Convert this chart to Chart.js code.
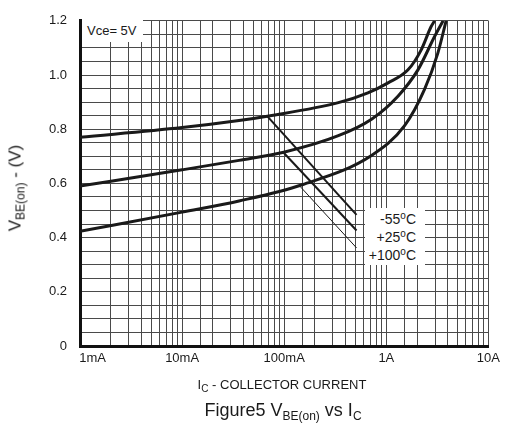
<!DOCTYPE html>
<html><head><meta charset="utf-8">
<script src="https://cdn.jsdelivr.net/npm/chart.js@4.4.1/dist/chart.umd.min.js"></script>
<style>
html,body{margin:0;padding:0;background:#fff;}
#wrap{position:relative;width:505px;height:430px;overflow:hidden;font-family:'Liberation Sans',Arial,sans-serif;color:#1a1a1a;}
canvas{position:absolute;left:0;top:0;}
.lbl{position:absolute;white-space:nowrap;line-height:1;}
.sb{position:relative;}
</style></head>
<body><div id="wrap">
<canvas id="c" width="505" height="430"></canvas>
<div class="lbl" style="left:82px;top:18px;width:61px;height:24px;background:#fff;font-size:13px;line-height:26px;padding-left:5px;box-sizing:border-box;">Vce= 5V</div>
<div class="lbl" style="left:365px;top:208px;width:60px;height:57px;background:#fff;font-size:14px;text-align:right;padding-right:9px;padding-top:3px;box-sizing:border-box;line-height:16px;">
-55<span style="font-size:10px;position:relative;top:-5px">o</span>C<br>+25<span style="font-size:10px;position:relative;top:-5px">o</span>C<br>+100<span style="font-size:10px;position:relative;top:-5px">o</span>C</div>
<div class="lbl" style="left:15px;top:188px;transform:translate(-50%,-50%) rotate(-90deg);font-size:17px;">V<span class="sb" style="font-size:12px;top:4px">BE(on)</span> - (V)</div>
<div class="lbl" style="left:282px;top:384px;transform:translate(-50%,-50%);font-size:13px;">I<span class="sb" style="font-size:10px;top:3px">C</span> - COLLECTOR CURRENT</div>
<div class="lbl" style="left:283px;top:410px;transform:translate(-50%,-50%);font-size:18px;">Figure5 V<span class="sb" style="font-size:12px;top:4px">BE(on)</span> vs I<span class="sb" style="font-size:12px;top:4px">C</span></div>
</div>
<script>
// Data (current in A, V_BE(on) in V)
const currentM55 = [0.001, 0.01, 0.0361, 0.0707, 0.339, 0.66, 1.04, 1.63, 2.19, 2.74, 2.97];
const vbeM55     = [0.770, 0.806, 0.832, 0.849, 0.898, 0.934, 0.971, 1.019, 1.092, 1.178, 1.2];
const currentP25 = [0.001, 0.01, 0.0361, 0.0989, 0.339, 0.716, 1.30, 2.04, 2.96, 3.6];
const vbeP25     = [0.590, 0.650, 0.685, 0.715, 0.776, 0.837, 0.922, 1.019, 1.141, 1.2];
const currentP100 = [0.001, 0.01, 0.0361, 0.15, 0.716, 1.51, 2.36, 3.19, 3.85];
const vbeP100     = [0.423, 0.494, 0.535, 0.595, 0.703, 0.813, 0.946, 1.080, 1.2];
// leader lines from curves to labels
const leaderM55X = [0.0681, 0.511];  const leaderM55Y = [0.848, 0.484];
const leaderP25X = [0.0989, 0.511];  const leaderP25Y = [0.713, 0.426];
const leaderP100X = [0.1438, 0.511]; const leaderP100Y = [0.588, 0.362];
// tick labels
const xTickValues = [0.001, 0.01, 0.1, 1, 10];
const xTickLabels = ['1mA', '10mA', '100mA', '1A', '10A'];
const yTickValues = [0, 0.2, 0.4, 0.6, 0.8, 1.0, 1.2];
const yTickLabels = ['0', '0.2', '0.4', '0.6', '0.8', '1.0', '1.2'];

const pts = (xs, ys) => xs.map((x, i) => ({x: x, y: ys[i]}));
const FONT = "'Liberation Sans Narrow','Liberation Sans',Arial,sans-serif";

const curve = (xs, ys) => ({data: pts(xs, ys), borderColor: '#1a1a1a', borderWidth: 3, pointRadius: 0, cubicInterpolationMode: 'monotone', fill: false});
const leader = (xs, ys, w) => ({data: pts(xs, ys), borderColor: '#1a1a1a', borderWidth: w, pointRadius: 0, tension: 0, fill: false});

new Chart(document.getElementById('c'), {
  type: 'line',
  data: {datasets: [
    curve(currentM55, vbeM55),
    curve(currentP25, vbeP25),
    curve(currentP100, vbeP100),
    leader(leaderM55X, leaderM55Y, 2),
    leader(leaderP25X, leaderP25Y, 2),
    leader(leaderP100X, leaderP100Y, 1)
  ]},
  options: {
    responsive: false, animation: false, devicePixelRatio: 1,
    layout: {padding: {top: 17, right: 14, left: 0, bottom: 0}},
    plugins: {legend: {display: false}, tooltip: {enabled: false}},
    scales: {
      x: {
        type: 'logarithmic', min: 0.001, max: 10,
        afterFit: s => { s.height = 84; },
        grid: {color: '#4a4a4a', lineWidth: 1, drawTicks: false},
        border: {display: true, color: '#111', width: 3},
        ticks: {
          autoSkip: false, maxRotation: 0, padding: 5, color: '#1a1a1a',
          font: {family: FONT, size: 13},
          callback: function (v) {
            const i = xTickValues.findIndex(t => Math.abs(Math.log10(v) - Math.log10(t)) < 1e-6);
            if (i < 0) return '';
            return i === 0 ? '       ' + xTickLabels[i] : xTickLabels[i];
          }
        }
      },
      y: {
        type: 'linear', min: 0, max: 1.2,
        afterFit: s => { s.width = 80; },
        grid: {color: '#4a4a4a', lineWidth: 1, drawTicks: false},
        border: {display: true, color: '#111', width: 3},
        ticks: {
          stepSize: 0.05, autoSkip: false, padding: 13, color: '#1a1a1a',
          font: {family: FONT, size: 13},
          callback: function (v) {
            const i = yTickValues.findIndex(t => Math.abs(v - t) < 1e-6);
            return i < 0 ? '' : yTickLabels[i];
          }
        }
      }
    }
  }
});
</script>
</body></html>
